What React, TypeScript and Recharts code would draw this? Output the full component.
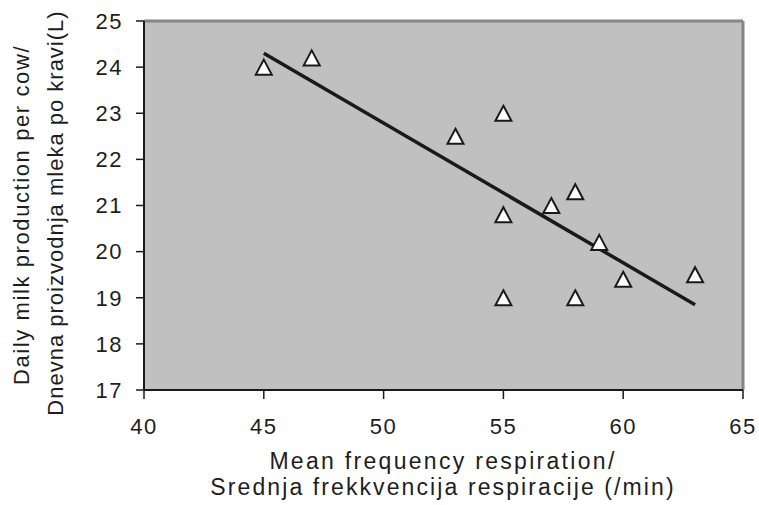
import React from "react";
import {
  ScatterChart,
  Scatter,
  XAxis,
  YAxis,
  ReferenceArea,
  ReferenceLine,
} from "recharts";

const respirationRate = [45, 47, 53, 55, 55, 55, 57, 58, 58, 59, 60, 63];
const milkYield = [24, 24.2, 22.5, 23, 20.8, 19, 21, 21.3, 19, 20.2, 19.4, 19.5];
const trendX = [45, 63];
const trendY = [24.3, 18.85];
const xTicks = [40, 45, 50, 55, 60, 65];
const yTicks = [17, 18, 19, 20, 21, 22, 23, 24, 25];
const xTitle = ["Mean frequency respiration/", "Srednja frekkvencija respiracije (/min)"];
const yTitle = ["Daily milk production per cow/", "Dnevna proizvodnja mleka po kravi(L)"];

const points = respirationRate.map((x, i) => ({ x, y: milkYield[i] }));

const FONT = "'Liberation Sans', Arial, sans-serif";
const TEXT = "#1e1e1e";

const Triangle = (props: any) => {
  const { cx, cy } = props;
  if (cx == null || cy == null) return null;
  const d = `M${cx},${cy - 7.5} L${cx + 8},${cy + 7.5} L${cx - 8},${cy + 7.5} Z`;
  return <path d={d} fill="#ffffff" stroke="#1a1a1a" strokeWidth={2} strokeLinejoin="miter" />;
};

export default function App() {
  return (
    <div style={{ position: "absolute", left: 0, top: 0, width: 759, height: 505, background: "#fff" }}>
      <ScatterChart
        width={759}
        height={505}
        margin={{ top: 21, right: 16, bottom: 85, left: 84 }}
      >
        <XAxis
          type="number"
          dataKey="x"
          domain={[40, 65]}
          ticks={xTicks}
          height={30}
          allowDataOverflow
          axisLine={{ stroke: "#1a1a1a", strokeWidth: 2 }}
          tickLine={{ stroke: "#1a1a1a", strokeWidth: 1.5 }}
          tickSize={9}
          tickMargin={19}
          tick={{ fill: TEXT, fontSize: 22, fontFamily: FONT, letterSpacing: 1.5 }}
        />
        <YAxis
          type="number"
          dataKey="y"
          domain={[17, 25]}
          ticks={yTicks}
          width={60}
          allowDataOverflow
          axisLine={{ stroke: "#1a1a1a", strokeWidth: 2 }}
          tickLine={{ stroke: "#1a1a1a", strokeWidth: 1.5 }}
          tickSize={8}
          tickMargin={13}
          tick={{ fill: TEXT, fontSize: 22, fontFamily: FONT, letterSpacing: 1.5 }}
        />
        <ReferenceArea x1={40} x2={65} y1={17} y2={25} fill="#c0c0c0" fillOpacity={1} stroke="none" ifOverflow="visible" />
        <ReferenceLine y={25} stroke="#858585" strokeWidth={3} ifOverflow="visible" />
        <ReferenceLine x={65} stroke="#858585" strokeWidth={3} ifOverflow="visible" />
        <ReferenceLine
          segment={[
            { x: trendX[0], y: trendY[0] },
            { x: trendX[1], y: trendY[1] },
          ]}
          stroke="#1a1a1a"
          strokeWidth={3.5}
          ifOverflow="visible"
        />
        <Scatter data={points} shape={<Triangle />} isAnimationActive={false} />
      </ScatterChart>
      <svg
        width={759}
        height={505}
        style={{ position: "absolute", left: 0, top: 0, pointerEvents: "none" }}
      >
        <text x={443} y={469} textAnchor="middle" fontSize={23} fontFamily={FONT} fill={TEXT} letterSpacing={2.3}>
          {xTitle[0]}
        </text>
        <text x={443} y={495} textAnchor="middle" fontSize={23} fontFamily={FONT} fill={TEXT} letterSpacing={2.1}>
          {xTitle[1]}
        </text>
        <text
          x={0}
          y={0}
          transform="translate(29,215) rotate(-90)"
          textAnchor="middle"
          fontSize={22}
          fontFamily={FONT}
          fill={TEXT}
          letterSpacing={1.6}
        >
          {yTitle[0]}
        </text>
        <text
          x={0}
          y={0}
          transform="translate(63,213) rotate(-90)"
          textAnchor="middle"
          fontSize={22}
          fontFamily={FONT}
          fill={TEXT}
          letterSpacing={1.0}
        >
          {yTitle[1]}
        </text>
      </svg>
    </div>
  );
}
